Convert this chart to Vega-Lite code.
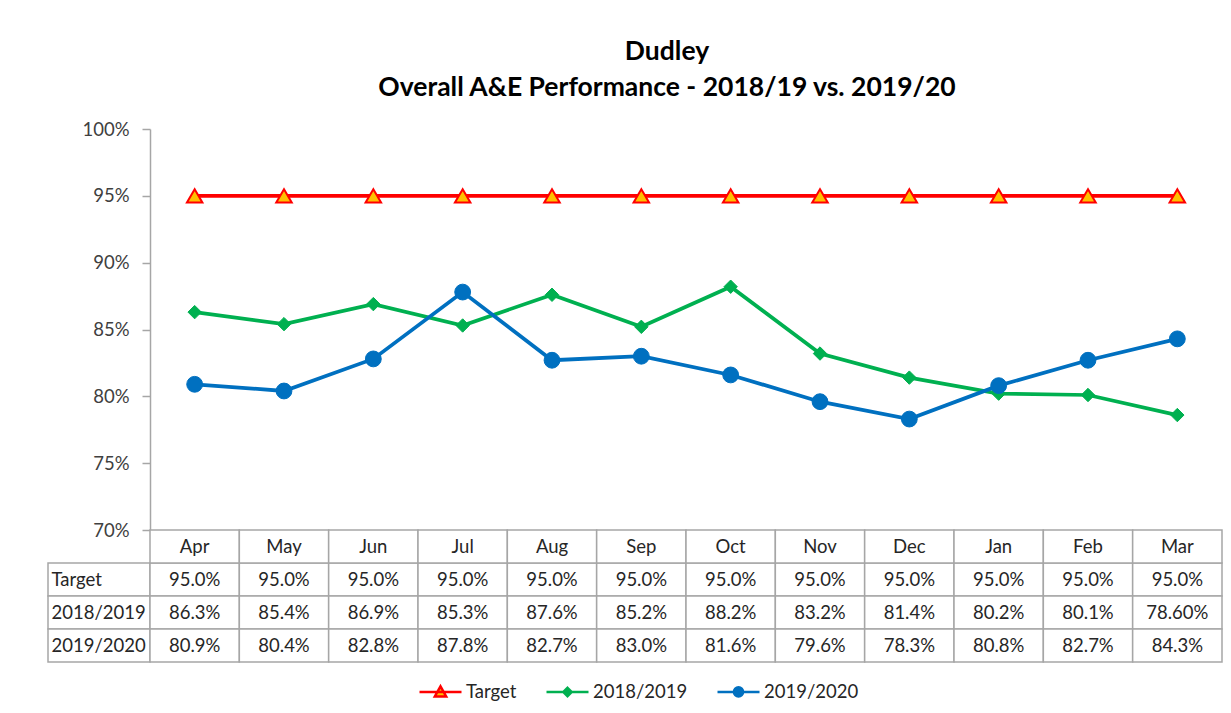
{
  "$schema": "https://vega.github.io/schema/vega-lite/v6.json",
  "background": "white",
  "padding": {"left": 47, "top": 38, "right": 5, "bottom": 5},
  "config": {"view": {"stroke": null}, "font": "Lato"},
  "title": {
    "text": ["Dudley", "Overall A&E Performance - 2018/19 vs. 2019/20"],
    "fontSize": 26.5, "fontWeight": "bold", "color": "#000000", "lineHeight": 36,
    "anchor": "middle", "dx": 32, "offset": 19, "font": "Lato"
  },
  "datasets": {
    "perf": [
      {"month": "Apr", "series": "Target", "value": 95, "shown": "95.0%"},
      {"month": "May", "series": "Target", "value": 95, "shown": "95.0%"},
      {"month": "Jun", "series": "Target", "value": 95, "shown": "95.0%"},
      {"month": "Jul", "series": "Target", "value": 95, "shown": "95.0%"},
      {"month": "Aug", "series": "Target", "value": 95, "shown": "95.0%"},
      {"month": "Sep", "series": "Target", "value": 95, "shown": "95.0%"},
      {"month": "Oct", "series": "Target", "value": 95, "shown": "95.0%"},
      {"month": "Nov", "series": "Target", "value": 95, "shown": "95.0%"},
      {"month": "Dec", "series": "Target", "value": 95, "shown": "95.0%"},
      {"month": "Jan", "series": "Target", "value": 95, "shown": "95.0%"},
      {"month": "Feb", "series": "Target", "value": 95, "shown": "95.0%"},
      {"month": "Mar", "series": "Target", "value": 95, "shown": "95.0%"},
      {"month": "Apr", "series": "2018/2019", "value": 86.3, "shown": "86.3%"},
      {"month": "May", "series": "2018/2019", "value": 85.4, "shown": "85.4%"},
      {"month": "Jun", "series": "2018/2019", "value": 86.9, "shown": "86.9%"},
      {"month": "Jul", "series": "2018/2019", "value": 85.3, "shown": "85.3%"},
      {"month": "Aug", "series": "2018/2019", "value": 87.6, "shown": "87.6%"},
      {"month": "Sep", "series": "2018/2019", "value": 85.2, "shown": "85.2%"},
      {"month": "Oct", "series": "2018/2019", "value": 88.2, "shown": "88.2%"},
      {"month": "Nov", "series": "2018/2019", "value": 83.2, "shown": "83.2%"},
      {"month": "Dec", "series": "2018/2019", "value": 81.4, "shown": "81.4%"},
      {"month": "Jan", "series": "2018/2019", "value": 80.2, "shown": "80.2%"},
      {"month": "Feb", "series": "2018/2019", "value": 80.1, "shown": "80.1%"},
      {"month": "Mar", "series": "2018/2019", "value": 78.6, "shown": "78.60%"},
      {"month": "Apr", "series": "2019/2020", "value": 80.9, "shown": "80.9%"},
      {"month": "May", "series": "2019/2020", "value": 80.4, "shown": "80.4%"},
      {"month": "Jun", "series": "2019/2020", "value": 82.8, "shown": "82.8%"},
      {"month": "Jul", "series": "2019/2020", "value": 87.8, "shown": "87.8%"},
      {"month": "Aug", "series": "2019/2020", "value": 82.7, "shown": "82.7%"},
      {"month": "Sep", "series": "2019/2020", "value": 83.0, "shown": "83.0%"},
      {"month": "Oct", "series": "2019/2020", "value": 81.6, "shown": "81.6%"},
      {"month": "Nov", "series": "2019/2020", "value": 79.6, "shown": "79.6%"},
      {"month": "Dec", "series": "2019/2020", "value": 78.3, "shown": "78.3%"},
      {"month": "Jan", "series": "2019/2020", "value": 80.8, "shown": "80.8%"},
      {"month": "Feb", "series": "2019/2020", "value": 82.7, "shown": "82.7%"},
      {"month": "Mar", "series": "2019/2020", "value": 84.3, "shown": "84.3%"}
    ]
  },
  "columns": 2,
  "spacing": 0,
  "bounds": "flush",
  "concat": [
    {
      "width": 102, "height": 401,
      "data": {"values": []},
      "mark": "text",
      "encoding": {}
    },
    {
      "width": 1072, "height": 401,
      "data": {"name": "perf"},
      "encoding": {
        "x": {"field": "month", "type": "ordinal",
              "scale": {"type": "point", "padding": 0.5, "domain": ["Apr","May","Jun","Jul","Aug","Sep","Oct","Nov","Dec","Jan","Feb","Mar"]},
              "axis": null},
        "y": {"field": "value", "type": "quantitative",
              "scale": {"domain": [70, 100], "nice": false, "zero": false},
              "axis": {"values": [70, 75, 80, 85, 90, 95, 100], "labelExpr": "datum.value + '%'",
                       "title": null, "grid": false, "domainColor": "#a6a6a6", "domainWidth": 1.5,
                       "tickColor": "#a6a6a6", "tickWidth": 1.5, "tickSize": 8, "labelPadding": 13,
                       "labelFontSize": 18.5, "labelColor": "#404040", "labelFont": "Lato"}}
      },
      "layer": [
        {
          "mark": {"type": "line", "strokeWidth": 3.75},
          "encoding": {
            "color": {"field": "series", "type": "nominal",
                      "scale": {"domain": ["Target", "2018/2019", "2019/2020"], "range": ["#FF0000", "#00B050", "#0070C0"]},
                      "legend": {
                        "orient": "none", "legendX": 370, "legendY": 540, "direction": "horizontal",
                        "title": null, "padding": 0, "symbolSize": 1764, "symbolStrokeWidth": 2.5,
                        "labelFontSize": 18.5, "labelColor": "#262626", "labelOffset": 3, "columnPadding": 24,
                        "labelFont": "Lato",
                        "encode": {"symbols": {"update": {
                          "shape": {"signal": "datum.value === 'Target' ? 'M-1,0H1M0,-0.27L0.27,0.21L-0.27,0.21Z' : datum.value === '2018/2019' ? 'M-1,0H1M0,-0.2L0.2,0L0,0.2L-0.2,0Z' : 'M-1,0H1M-0.22,0A0.22,0.22,0,1,0,0.22,0A0.22,0.22,0,1,0,-0.22,0Z'"},
                          "fill": {"signal": "datum.value === 'Target' ? '#FFC000' : datum.value === '2018/2019' ? '#00B050' : '#0070C0'"},
                          "stroke": {"signal": "datum.value === 'Target' ? '#FF0000' : datum.value === '2018/2019' ? '#00B050' : '#0070C0'"},
                          "strokeWidth": {"value": 2.5},
                          "opacity": {"value": 1}
                        }}}
                      }}
          }
        },
        {
          "transform": [{"filter": "datum.series === 'Target'"}],
          "mark": {"type": "point", "shape": "triangle-up", "filled": true, "fill": "#FFC000", "stroke": "#FF0000", "strokeWidth": 2, "size": 240, "opacity": 1}
        },
        {
          "transform": [{"filter": "datum.series === '2018/2019'"}],
          "mark": {"type": "point", "shape": "diamond", "filled": true, "fill": "#00B050", "stroke": "#00B050", "strokeWidth": 1, "size": 180, "opacity": 1}
        },
        {
          "transform": [{"filter": "datum.series === '2019/2020'"}],
          "mark": {"type": "point", "shape": "circle", "filled": true, "fill": "#0070C0", "stroke": "#0070C0", "strokeWidth": 1, "size": 250, "opacity": 1}
        }
      ]
    },
    {
      "width": 102, "height": 132,
      "data": {"name": "perf"},
      "transform": [{"filter": "datum.month === 'Apr'"}],
      "encoding": {
        "y": {"field": "series", "type": "nominal",
              "scale": {"domain": ["hdr", "Target", "2018/2019", "2019/2020"], "paddingInner": 0, "paddingOuter": 0},
              "axis": null}
      },
      "layer": [
        {"mark": {"type": "rect", "fill": "white", "stroke": "#a6a6a6", "strokeWidth": 1.5}},
        {"mark": {"type": "text", "align": "left", "dx": -47.5, "fontSize": 18.5, "color": "#262626", "font": "Lato"},
         "encoding": {"text": {"field": "series"}}}
      ]
    },
    {
      "width": 1072, "height": 132,
      "data": {"name": "perf"},
      "encoding": {
        "x": {"field": "month", "type": "nominal",
              "scale": {"domain": ["Apr","May","Jun","Jul","Aug","Sep","Oct","Nov","Dec","Jan","Feb","Mar"], "paddingInner": 0, "paddingOuter": 0},
              "axis": null}
      },
      "layer": [
        {"mark": {"type": "rect", "fill": "white", "stroke": "#a6a6a6", "strokeWidth": 1.5},
         "encoding": {"y": {"field": "series", "type": "nominal",
                            "scale": {"domain": ["hdr", "Target", "2018/2019", "2019/2020"], "paddingInner": 0, "paddingOuter": 0},
                            "axis": null}}},
        {"transform": [{"filter": "datum.series === 'Target'"}],
         "mark": {"type": "rect", "fill": "white", "stroke": "#a6a6a6", "strokeWidth": 1.5},
         "encoding": {"y": {"datum": "hdr", "type": "nominal"}}},
        {"mark": {"type": "text", "fontSize": 18.5, "color": "#262626", "font": "Lato"},
         "encoding": {"y": {"field": "series", "type": "nominal"}, "text": {"field": "shown"}}},
        {"transform": [{"filter": "datum.series === 'Target'"}],
         "mark": {"type": "text", "fontSize": 18.5, "color": "#262626", "font": "Lato"},
         "encoding": {"y": {"datum": "hdr", "type": "nominal"}, "text": {"field": "month"}}}
      ]
    }
  ]
}
